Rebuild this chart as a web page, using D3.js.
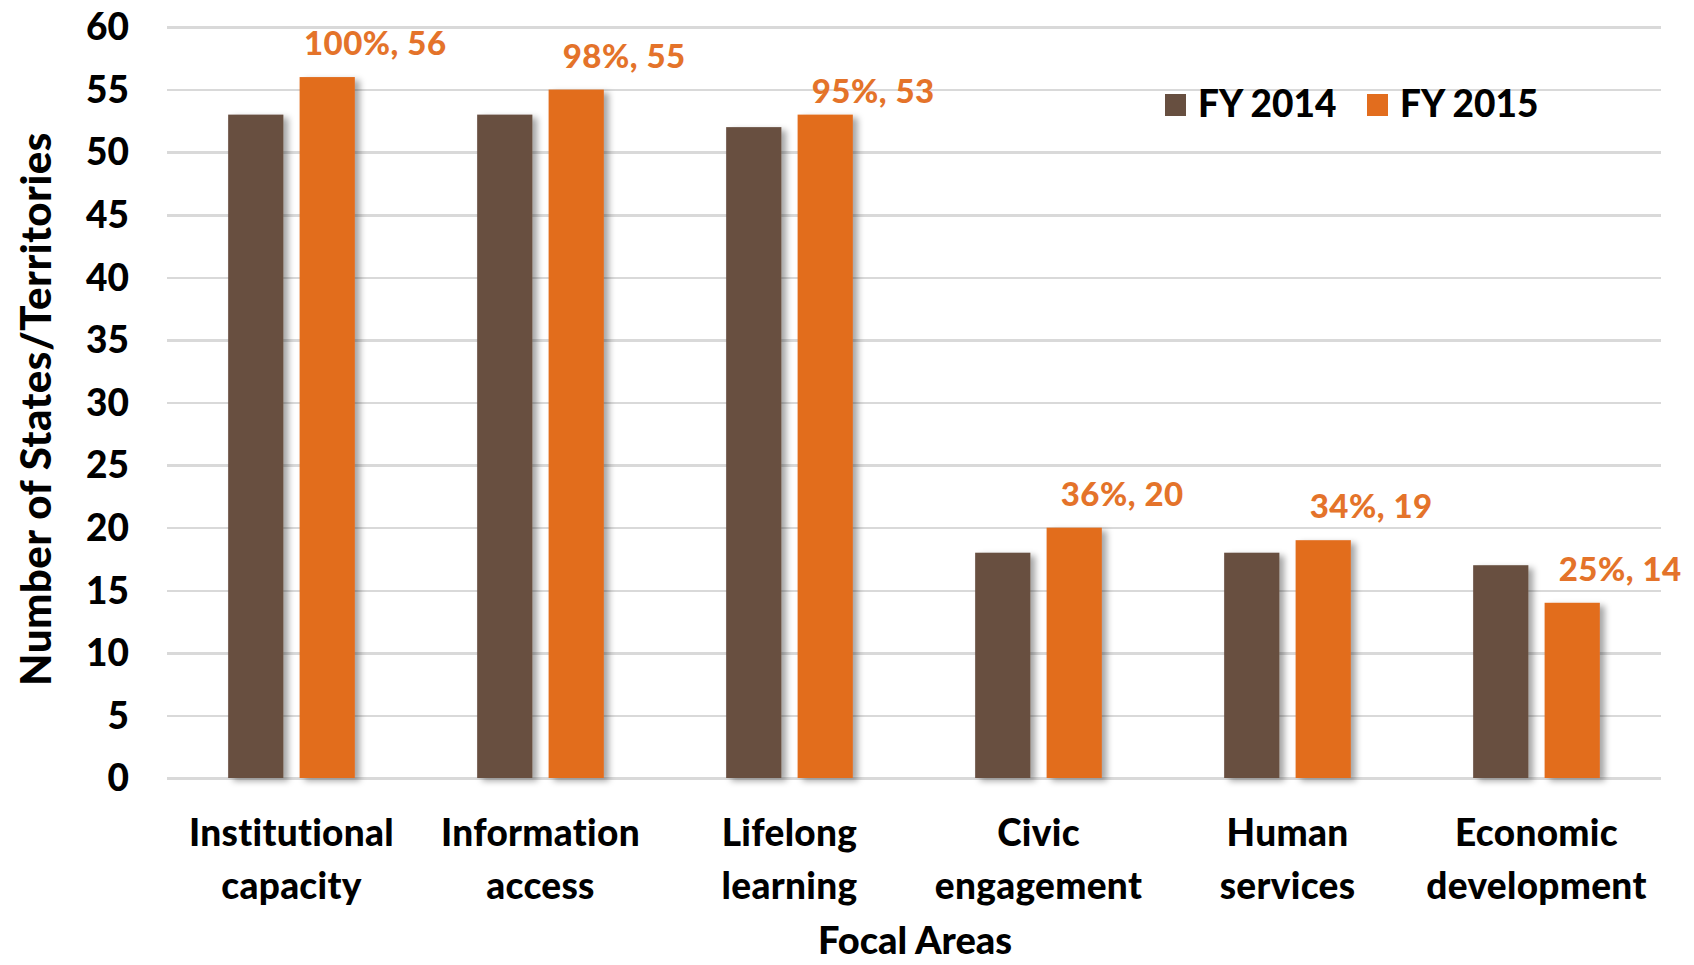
<!DOCTYPE html>
<html>
<meta charset="utf-8">
<style>
  body { margin: 0; background: #fff; }
  text { font-family: Lato, "Open Sans", sans-serif; font-weight: 900; }
  .grid line { stroke: #d9d9d9; stroke-width: 2.5px; shape-rendering: crispEdges; }
  .grid path { display: none; }
</style>
<svg width="1694" height="965"></svg>
<script src="https://d3js.org/d3.v7.min.js"></script>
<script>
  // data
  var categories = [["Institutional", "capacity"], ["Information", "access"], ["Lifelong", "learning"],
    ["Civic", "engagement"], ["Human", "services"], ["Economic", "development"]];
  var seriesNames = ["FY 2014", "FY 2015"];
  var fy2014 = [53, 53, 52, 18, 18, 17];
  var fy2015 = [56, 55, 53, 20, 19, 14];
  var fy2015Labels = ["100%, 56", "98%, 55", "95%, 53", "36%, 20", "34%, 19", "25%, 14"];
  var yTicks = [0, 5, 10, 15, 20, 25, 30, 35, 40, 45, 50, 55, 60];

  var colors = ["#674f40", "#e26d1e"];

  var svg = d3.select("svg"),
    margin = { top: 27, right: 33, bottom: 187, left: 167 },
    width = +svg.attr("width") - margin.left - margin.right,
    height = +svg.attr("height") - margin.top - margin.bottom,
    g = svg.append("g").attr("transform", "translate(" + margin.left + "," + margin.top + ")");

  // shadow for bars
  var defs = svg.append("defs");
  var f = defs.append("filter").attr("id", "shadow")
    .attr("x", "-20%").attr("y", "-5%").attr("width", "160%").attr("height", "115%");
  f.append("feDropShadow").attr("dx", 5).attr("dy", 3).attr("stdDeviation", 3)
    .attr("flood-color", "#000").attr("flood-opacity", 0.35);

  var x0 = d3.scaleBand().domain(d3.range(categories.length)).range([0, width]);
  var x1 = d3.scaleBand().domain([0, 1]).range([0, x0.bandwidth()])
    .paddingInner(0.227).paddingOuter(0.856);
  var y = d3.scaleLinear().domain([0, 60]).range([height, 0]);

  // gridlines
  g.append("g").attr("class", "grid")
    .call(d3.axisLeft(y).tickValues(yTicks).tickSize(-width).tickFormat(""));

  // y tick labels
  g.selectAll(".ytick").data(yTicks).enter().append("text")
    .attr("x", -38).attr("y", function (d) { return y(d); })
    .attr("dy", "0.36em").attr("text-anchor", "end")
    .attr("font-size", 37).attr("fill", "#000")
    .text(function (d) { return d; });

  var data = categories.map(function (c, i) { return [fy2014[i], fy2015[i]]; });

  var groups = g.selectAll(".cat").data(data).enter().append("g")
    .attr("transform", function (d, i) { return "translate(" + x0(i) + ",0)"; });

  groups.selectAll("rect").data(function (d) { return d; }).enter().append("rect")
    .attr("x", function (d, j) { return x1(j); })
    .attr("y", function (d) { return y(d); })
    .attr("width", x1.bandwidth())
    .attr("height", function (d) { return height - y(d); })
    .attr("fill", function (d, j) { return colors[j]; })
    .attr("filter", "url(#shadow)");

  // FY 2015 labels (the Lifelong one sits a little lower in the original)
  g.selectAll(".lbl").data(fy2015Labels).enter().append("text")
    .attr("x", function (d, i) { return x0(i) + x1(1) + x1.bandwidth() / 2 + 48; })
    .attr("y", function (d, i) { return y(fy2015[i]) - (i === 2 ? 12 : 22); })
    .attr("text-anchor", "middle").attr("font-size", 33).attr("letter-spacing", 0.5)
    .attr("fill", "#e4732a")
    .text(function (d) { return d; });

  // category labels
  var cl = g.selectAll(".cl").data(categories).enter().append("text")
    .attr("text-anchor", "middle").attr("font-size", 37).attr("letter-spacing", 0.3).attr("fill", "#000")
    .attr("transform", function (d, i) { return "translate(" + (x0(i) + x0.bandwidth() / 2) + "," + (height + 68) + ")"; });
  cl.append("tspan").attr("x", 0).attr("y", 0).text(function (d) { return d[0]; });
  cl.append("tspan").attr("x", 0).attr("y", 53).text(function (d) { return d[1]; });

  // axis titles
  svg.append("text").attr("x", 915).attr("y", 954).attr("text-anchor", "middle")
    .attr("font-size", 38).attr("fill", "#000").text("Focal Areas");
  svg.append("text").attr("transform", "translate(51,409) rotate(-90)")
    .attr("text-anchor", "middle").attr("font-size", 42).attr("letter-spacing", 0.5).attr("fill", "#000")
    .text("Number of States/Territories");

  // legend
  var legendX = [1165, 1367];
  var legend = svg.selectAll(".legend").data(seriesNames).enter().append("g")
    .attr("transform", function (d, i) { return "translate(" + legendX[i] + ",94)"; });
  legend.append("rect").attr("width", 21).attr("height", 22)
    .attr("fill", function (d, i) { return colors[i]; });
  legend.append("text").attr("x", 33).attr("y", 23).attr("font-size", 37).attr("fill", "#000")
    .text(function (d) { return d; });
</script>
</html>
